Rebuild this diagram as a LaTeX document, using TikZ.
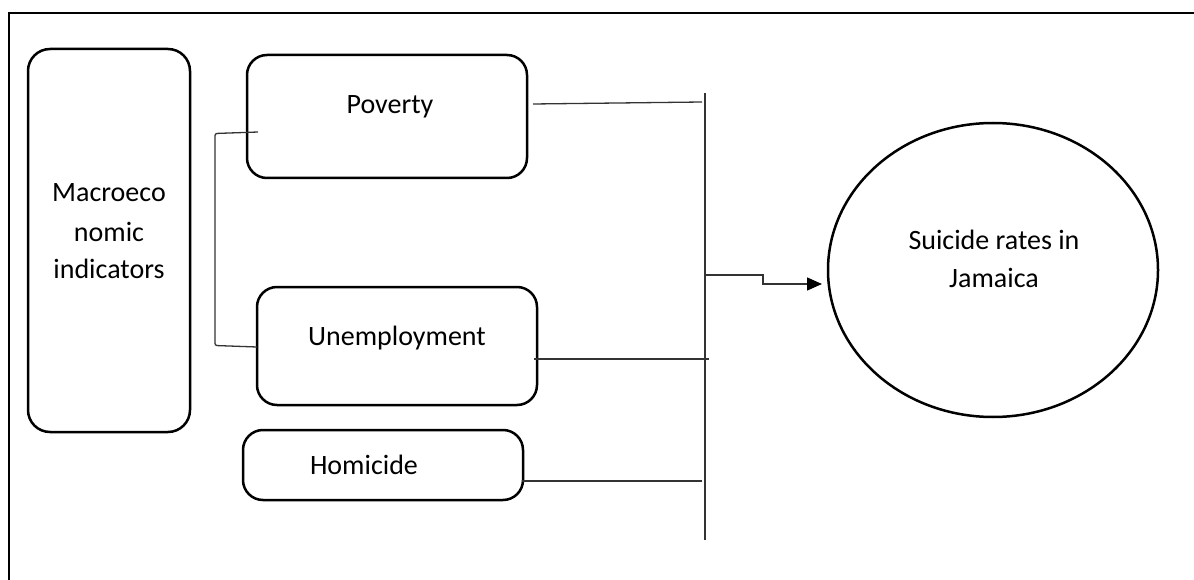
\documentclass[tikz,border=0pt]{standalone}
\usepackage{fontspec}
\setmainfont{Carlito}
\usetikzlibrary{arrows.meta,shapes.geometric}
\tikzset{
  box/.style={draw=black,line width=2.5pt,rounded corners=20pt,inner sep=0pt,fill=none},
  conn/.style={draw=black!80,line width=1.3pt},
  lbl/.style={anchor=base,inner sep=0pt,font=\fontsize{28}{34}\selectfont},
  frame/.style={draw=black,line width=2.5pt},
}
\begin{document}
\begin{tikzpicture}[x=1pt,y=-1pt]
\useasboundingbox[fill=white] (0,0) rectangle (1194,580);
% clipped outer frame
\draw[frame] (9,580) -- (9,13) -- (1194,13);

% boxes
\node[box,minimum width=162pt,minimum height=383pt,rounded corners=22pt] (macro) at (109,240.5) {};
\node[box,minimum width=280pt,minimum height=123pt] (poverty) at (387,116.5) {};
\node[box,minimum width=280pt,minimum height=118pt] (unemp) at (397,346) {};
\node[box,minimum width=280pt,minimum height=70pt] (homi) at (383,465) {};
\node[draw=black,line width=2.5pt,ellipse,minimum width=330pt,minimum height=294pt,inner sep=0pt] (suicide) at (993,270) {};

% texts
\node[lbl] (mac1) at (109,202) {Macroeco};
\node[lbl] (mac2) at (109,242) {nomic};
\node[lbl] (mac3) at (109,278) {indicators};
\node[lbl] (povtxt) at (390,114) {Poverty};
\node[lbl] (unetxt) at (397,345) {Unemployment};
\node[lbl] (homtxt) at (364,474) {Homicide};
\node[lbl] (suitxt1) at (994,250) {Suicide rates in};
\node[lbl] (suitxt2) at (994,287) {Jamaica};

% coordinates
\coordinate (bustop) at (705,93);
\coordinate (busbot) at (705,540);
\coordinate (pvA) at (533,104);
\coordinate (pvB) at (702,102);
\coordinate (unA) at (534,359);
\coordinate (unB) at (709,359);
\coordinate (hoA) at (522,481);
\coordinate (hoB) at (702,481);
\coordinate (brtop) at (258,132);
\coordinate (brbot) at (257,347);
\coordinate (arrS) at (705,275);
\coordinate (arrE) at (822,284);

% connectors
\draw[conn] (bustop) -- (busbot);
\draw[conn] (pvA) -- (pvB);
\draw[conn] (unA) -- (unB);
\draw[conn] (hoA) -- (hoB);
\draw[conn,rounded corners=2pt] (brtop) -- (215,133.5) -- (215,345.5) -- (brbot);
\draw[conn,-{Triangle[length=15pt,width=13pt,fill=black,color=black]}] (arrS) -- (763,275) -- (763,284) -- (arrE);
\end{tikzpicture}
\end{document}
